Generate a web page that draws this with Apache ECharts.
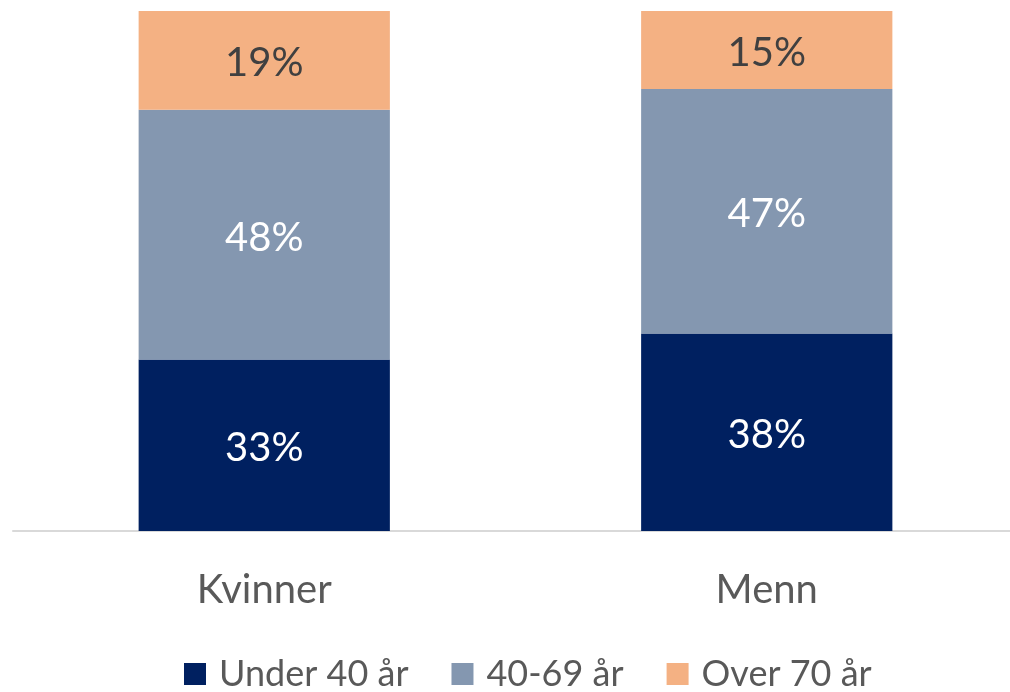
<!DOCTYPE html>
<html>
<head>
<meta charset="utf-8">
<script src="https://cdn.jsdelivr.net/npm/echarts@6/dist/echarts.min.js"></script>
<style>
  html, body { margin: 0; padding: 0; background: #fff; }
  #chart { width: 1010px; height: 692px; }
</style>
</head>
<body>
<div id="chart"></div>
<script>
var categories = ['Kvinner', 'Menn'];
var under40 = [33, 38];
var mid4069 = [48, 47];
var over70 = [19, 15];

var chart = echarts.init(document.getElementById('chart'));

function seg(name, data, color, labelColor) {
  return {
    name: name,
    type: 'bar',
    stack: 'total',
    barWidth: '50%',
    data: data,
    itemStyle: { color: color },
    label: {
      show: true,
      position: 'inside',
      offset: [0, 3],
      formatter: '{c}%',
      color: labelColor,
      fontFamily: 'Lato',
      fontSize: 40
    }
  };
}

var option = {
  animation: false,
  grid: { left: 13, width: 1005, top: 11, height: 520, outerBoundsMode: 'none', containLabel: false },
  legend: {
    top: 651,
    left: 179,
    itemWidth: 22,
    itemHeight: 22,
    itemGap: 43,
    icon: 'rect',
    textStyle: { fontFamily: 'Lato', fontSize: 36, color: '#595959', padding: [0, 0, 0, 8] },
    data: ['Under 40 år', '40-69 år', 'Over 70 år']
  },
  xAxis: {
    type: 'category',
    data: categories,
    axisLine: { lineStyle: { color: '#d9d9d9', width: 2 } },
    axisTick: { show: false },
    axisLabel: { fontFamily: 'Lato', fontSize: 40, color: '#595959', margin: 39 }
  },
  yAxis: {
    type: 'value',
    min: 0,
    max: 100,
    show: false
  },
  series: [
    seg('Under 40 år', under40, '#002060', '#ffffff'),
    seg('40-69 år', mid4069, '#8497b0', '#ffffff'),
    seg('Over 70 år', over70, '#f4b183', '#404040')
  ]
};

chart.setOption(option);
</script>
</body>
</html>
